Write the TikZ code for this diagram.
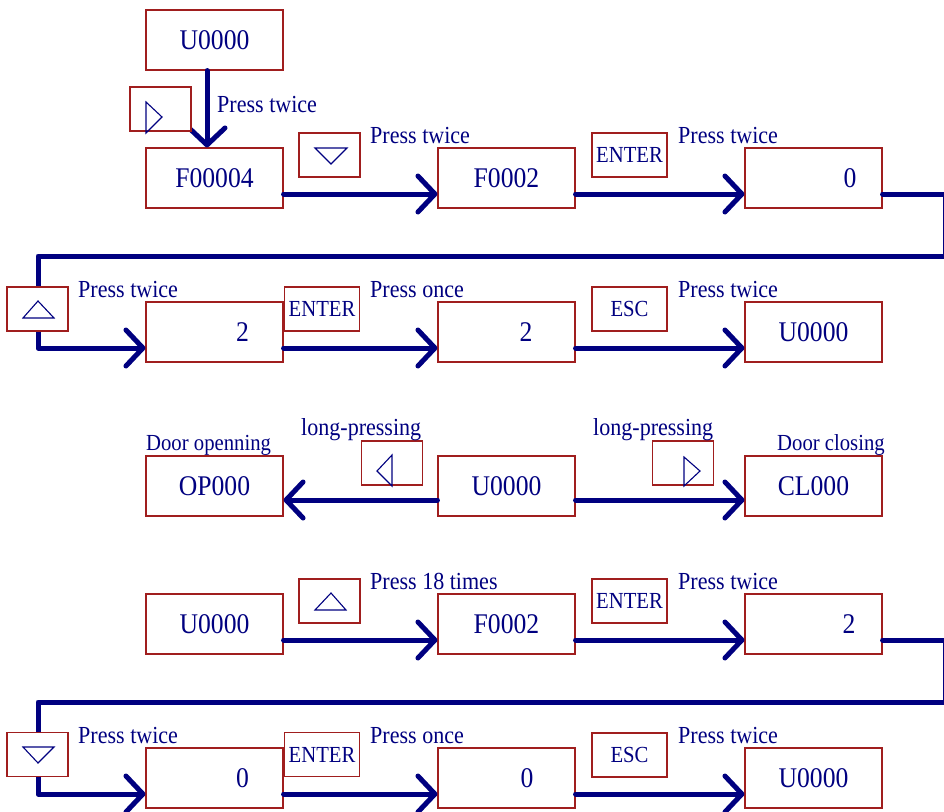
\documentclass[tikz,border=0pt]{standalone}
\usepackage{fontspec}
\setmainfont{Liberation Serif}[FakeStretch=0.9]
\usetikzlibrary{arrows.meta,calc}
\definecolor{ink}{RGB}{0,0,128}
\definecolor{frame}{RGB}{160,30,30}
\begin{document}
\begin{tikzpicture}[x=1pt,y=-1pt,
  state/.style={draw=frame,line width=1.1pt,fill=white,minimum width=137pt,minimum height=60pt,inner sep=0pt,text=ink,font=\fontsize{28.5}{30}\selectfont},
  key/.style={draw=frame,line width=1.1pt,fill=white,minimum height=44pt,inner sep=0pt,text=ink,font=\fontsize{23}{25}\selectfont},
  arrowkey/.style={key,minimum width=61pt},
  textkey/.style={key,minimum width=75pt},
  digit/.style={text=ink,inner sep=0pt,font=\fontsize{28.5}{30}\selectfont},
  note/.style={text=ink,inner sep=0pt,anchor=base west,font=\fontsize{24.5}{26}\selectfont},
  smallnote/.style={note,font=\fontsize{23}{25}\selectfont},
  flow/.style={draw=ink,line width=5pt,line cap=round,line join=round,-{Straight Barb[length=17pt,width=36pt,round]}},
  glyph/.style={draw=ink,line width=1.1pt}
]
\useasboundingbox (0,0) rectangle (944,811);

% display states
\node[state] (u1) at (214.5,40) {U0000};
\node[state] (f4) at (214.5,178) {F00004};
\node[state] (f2) at (506.5,178) {F0002};
\node[state] (z2) at (813.5,178) {};
\node[digit] (z2t) at (850,178) {0};

\node[state] (b31) at (214.5,332) {};
\node[digit] (b31t) at (242.5,332) {2};
\node[state] (b32) at (506.5,332) {};
\node[digit] (b32t) at (526,332) {2};
\node[state] (u3) at (813.5,332) {U0000};

\node[state] (op) at (214.5,486) {OP000};
\node[state] (u4) at (506.5,486) {U0000};
\node[state] (cl) at (813.5,486) {CL000};

\node[state] (u5) at (214.5,624) {U0000};
\node[state] (f5) at (506.5,624) {F0002};
\node[state] (t5) at (813.5,624) {};
\node[digit] (t5t) at (849,624) {2};

\node[state] (b61) at (214.5,778) {};
\node[digit] (b61t) at (242.5,778) {0};
\node[state] (b62) at (506.5,778) {};
\node[digit] (b62t) at (527,778) {0};
\node[state] (u6) at (813.5,778) {U0000};

% turn-around corners
\coordinate (wa1) at (945,256);
\coordinate (wb1) at (38,256);
\coordinate (wa2) at (945,702);
\coordinate (wb2) at (38,702);

% transitions
\draw[flow] ($(u1.south)+(-7.5,0)$) -- ($(f4.north)+(-7.5,0)$);
\draw[flow] ($(f4.east)+(0,16)$) -- ($(f2.west)+(0,16)$);
\draw[flow] ($(f2.east)+(0,16)$) -- ($(z2.west)+(0,16)$);
\draw[flow] ($(z2.east)+(0,16)$) -| (wa1) -- (wb1) |- ($(b31.west)+(0,16)$);
\draw[flow] ($(b31.east)+(0,16)$) -- ($(b32.west)+(0,16)$);
\draw[flow] ($(b32.east)+(0,16)$) -- ($(u3.west)+(0,16)$);

\draw[flow] ($(u4.west)+(0,14)$) -- ($(op.east)+(0,14)$);
\draw[flow] ($(u4.east)+(0,14)$) -- ($(cl.west)+(0,14)$);

\draw[flow] ($(u5.east)+(0,16)$) -- ($(f5.west)+(0,16)$);
\draw[flow] ($(f5.east)+(0,16)$) -- ($(t5.west)+(0,16)$);
\draw[flow] ($(t5.east)+(0,16)$) -| (wa2) -- (wb2) |- ($(b61.west)+(0,16)$);
\draw[flow] ($(b61.east)+(0,16)$) -- ($(b62.west)+(0,16)$);
\draw[flow] ($(b62.east)+(0,16)$) -- ($(u6.west)+(0,16)$);

% keys
\node[arrowkey] (kR1) at (160.5,109) {};
\node[arrowkey] (kD2) at (329.5,155) {};
\node[textkey] (kE2) at (629.5,155) {ENTER};
\node[arrowkey] (kU3) at (37.5,309) {};
\node[textkey] (kE3) at (322,309) {ENTER};
\node[textkey] (kS3) at (629.5,309) {ESC};
\node[arrowkey] (kL4) at (392,463) {};
\node[arrowkey] (kR4) at (683,463) {};
\node[arrowkey] (kU5) at (329.5,601) {};
\node[textkey] (kE5) at (629.5,601) {ENTER};
\node[arrowkey] (kD6) at (37.5,754.5) {};
\node[textkey] (kE6) at (322,754.5) {ENTER};
\node[textkey] (kS6) at (629.5,755) {ESC};

% key symbols
\draw[glyph,shift={(kR1.center)}] (-14.5,-7) -- (-14.5,24) -- (1.5,8) -- cycle;
\draw[glyph,shift={(kD2.center)}] (-14.5,-7) -- (17.5,-7) -- (1.5,9) -- cycle;
\draw[glyph,shift={(kU3.center)}] (-14.5,9) -- (16.5,9) -- (0.5,-8) -- cycle;
\draw[glyph,shift={(kL4.center)}] (0,-8) -- (0,23) -- (-15,8) -- cycle;
\draw[glyph,shift={(kR4.center)}] (1,-6) -- (1,23) -- (17,8) -- cycle;
\draw[glyph,shift={(kU5.center)}] (-14.5,9) -- (16.5,9) -- (1.5,-8) -- cycle;
\draw[glyph,shift={(kD6.center)}] (-14.5,-7.5) -- (16.5,-7.5) -- (0.5,8.5) -- cycle;

% captions
\node[note] (n1) at (217,112) {Press twice};
\node[note] (n2) at (370,143) {Press twice};
\node[note] (n3) at (678,143) {Press twice};
\node[note] (n4) at (78,297) {Press twice};
\node[note] (n5) at (370,297) {Press once};
\node[note] (n6) at (678,297) {Press twice};
\node[note] (n7) at (301,435) {long-pressing};
\node[note] (n8) at (593,435) {long-pressing};
\node[smallnote] (n9) at (146,450) {Door openning};
\node[smallnote] (n10) at (777,450) {Door closing};
\node[note] (n11) at (370,589) {Press 18 times};
\node[note] (n12) at (678,589) {Press twice};
\node[note] (n13) at (78,743) {Press twice};
\node[note] (n14) at (370,743) {Press once};
\node[note] (n15) at (678,743) {Press twice};
\end{tikzpicture}
\end{document}
